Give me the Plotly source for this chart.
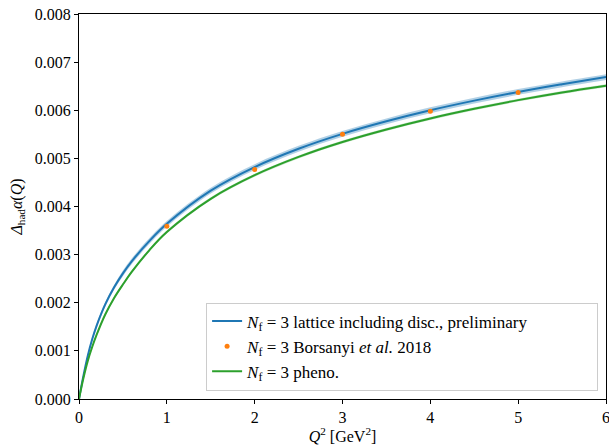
import plotly.graph_objects as go

# Q^2 grid [GeV^2]
q2 = [0, 0.05, 0.1, 0.15, 0.2, 0.3, 0.4, 0.5, 0.6, 0.8, 1.0, 1.5,
      2.0, 2.5, 3.0, 3.5, 4.0, 4.5, 5.0, 5.5, 6.0]

# Nf=3 lattice including disc., preliminary
lat_val = [0, 0.00048, 0.00090, 0.00124, 0.00152, 0.00197, 0.00232, 0.00261,
           0.00286, 0.00328, 0.00364, 0.00433, 0.00482, 0.00520,
           0.00551, 0.00577, 0.00600, 0.00620, 0.00638, 0.00654, 0.00669]
lat_err = [0, 0.00003, 0.00004, 0.00004, 0.00005, 0.00005, 0.00005, 0.00006,
           0.00006, 0.00006, 0.00006, 0.00006, 0.00006, 0.00006,
           0.00006, 0.00006, 0.00006, 0.00006, 0.00006, 0.00006, 0.00006]

# Nf=3 pheno.
phe_val = [0, 0.00043, 0.00079, 0.00108, 0.00133, 0.00176, 0.00210, 0.00238,
           0.00264, 0.00309, 0.00347, 0.00416, 0.00465, 0.00503,
           0.00534, 0.00560, 0.00583, 0.00603, 0.00621, 0.00637, 0.00651]
phe_err = [0, 0.00002, 0.00002, 0.00002, 0.00002, 0.00003, 0.00003, 0.00003,
           0.00003, 0.00003, 0.00003, 0.00003, 0.00003, 0.00003,
           0.00003, 0.00003, 0.00003, 0.00003, 0.00003, 0.00003, 0.00003]

# Nf=3 Borsanyi et al. 2018
bor_q2 = [1, 2, 3, 4, 5]
bor_val = [0.00359, 0.00477, 0.00550, 0.00598, 0.00637]
bor_err = [0.00002, 0.00002, 0.00002, 0.00002, 0.00002]

# tick labels
x_tickvals = [0, 1, 2, 3, 4, 5, 6]
x_ticklabels = ["0", "1", "2", "3", "4", "5", "6"]
y_tickvals = [0, 0.001, 0.002, 0.003, 0.004, 0.005, 0.006, 0.007, 0.008]
y_ticklabels = ["0.000", "0.001", "0.002", "0.003", "0.004", "0.005", "0.006", "0.007", "0.008"]

BLUE = "#1f77b4"
ORANGE = "#ff7f0e"
GREEN = "#2ca02c"
FONT = "Liberation Serif"
PAD = "\u00a0" * 15  # empty room at the right of the legend box, as in the original

fig = go.Figure()


def band(x, v, e, color, fillcolor):
    lo = [a - b for a, b in zip(v, e)]
    hi = [a + b for a, b in zip(v, e)]
    fig.add_trace(go.Scatter(x=x, y=lo, mode="lines", line=dict(width=0, shape="spline", color=color),
                             showlegend=False, hoverinfo="skip"))
    fig.add_trace(go.Scatter(x=x, y=hi, mode="lines", line=dict(width=0, shape="spline", color=color),
                             fill="tonexty", fillcolor=fillcolor, showlegend=False, hoverinfo="skip"))


band(q2, lat_val, lat_err, BLUE, "rgba(31,119,180,0.35)")
band(q2, phe_val, phe_err, GREEN, "rgba(44,160,44,0.25)")

fig.add_trace(go.Scatter(x=q2, y=lat_val, mode="lines", line=dict(color=BLUE, width=2, shape="spline"),
                         name="<i>N</i><sub>f</sub> = 3 lattice including disc., preliminary" + PAD,
                         legendgroup="a"))
fig.add_trace(go.Scatter(x=bor_q2, y=bor_val, mode="markers",
                         marker=dict(color=ORANGE, size=5),
                         error_y=dict(type="data", array=bor_err, color=ORANGE, thickness=1.5, width=0),
                         name="<i>N</i><sub>f</sub> = 3 Borsanyi <i>et al.</i> 2018",
                         legendgroup="b"))
fig.add_trace(go.Scatter(x=q2, y=phe_val, mode="lines", line=dict(color=GREEN, width=2, shape="spline"),
                         name="<i>N</i><sub>f</sub> = 3 pheno.",
                         legendgroup="c"))

tick_font = dict(family=FONT, size=16, color="black")
axis_common = dict(showline=True, linecolor="black", linewidth=1, mirror=True,
                   ticks="outside", ticklen=4, tickcolor="black", showgrid=False,
                   zeroline=False, automargin=False, ticklabeloverflow="allow",
                   tickmode="array", tickfont=tick_font)

fig.update_layout(
    template="none",
    xaxis=dict(range=[0, 6], tickvals=x_tickvals, ticktext=x_ticklabels,
               title=dict(text="<i>Q</i><sup>2</sup> [GeV<sup>2</sup>]",
                          font=dict(family=FONT, size=16, color="black"), standoff=10),
               **axis_common),
    yaxis=dict(range=[0, 0.008], tickvals=y_tickvals, ticktext=y_ticklabels,
               title=dict(text="<i>Δ</i><sub>had</sub><i>α</i>(<i>Q</i>)",
                          font=dict(family=FONT, size=16, color="black"), standoff=8),
               **axis_common),
    width=609, height=445,
    margin=dict(l=79, r=3, t=14, b=46),
    plot_bgcolor="white", paper_bgcolor="white",
    font=dict(family=FONT, size=16, color="black"),
    legend=dict(x=0.985, y=0.022, xanchor="right", yanchor="bottom",
                bgcolor="rgba(255,255,255,0.8)", bordercolor="#cccccc", borderwidth=1,
                font=dict(family=FONT, size=17, color="black"), tracegroupgap=0,
                itemwidth=30),
    showlegend=True,
)

fig.write_html("out.html", post_script="document.body.style.margin='0px';",
               config={"displayModeBar": False})
